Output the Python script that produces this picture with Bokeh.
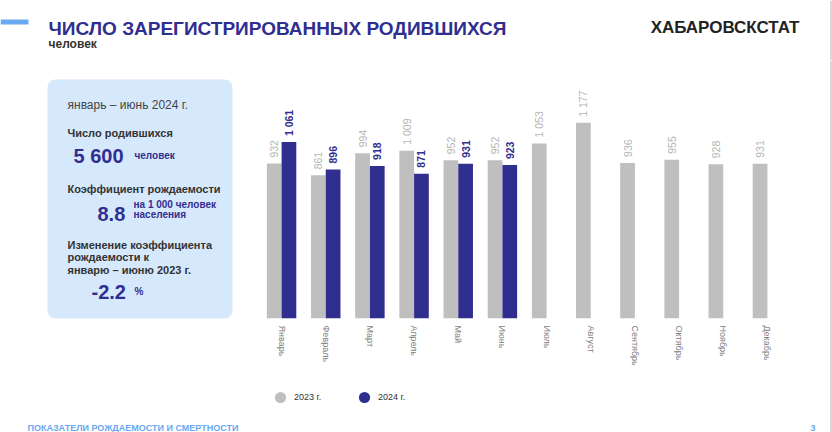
import math
from bokeh.plotting import figure
from bokeh.layouts import column, row
from bokeh.models import (ColumnDataSource, FactorRange, Range1d, Label,
                          BoxAnnotation, Legend, LegendItem, Span)
from bokeh.transform import dodge
from bokeh.core.properties import value
from bokeh.embed import file_html
from bokeh.resources import INLINE

# ---------------- data ----------------
months = ["Январь", "Февраль", "Март", "Апрель", "Май", "Июнь",
          "Июль", "Август", "Сентябрь", "Октябрь", "Ноябрь", "Декабрь"]
births_2023 = [932, 861, 994, 1009, 952, 952, 1053, 1177, 936, 955, 928, 931]
months_2024 = months[:6]
births_2024 = [1061, 896, 918, 871, 931, 923]
series_names = ["2023 г.", "2024 г."]

title = "ЧИСЛО ЗАРЕГИСТРИРОВАННЫХ РОДИВШИХСЯ"
subtitle = "человек"
brand = "ХАБАРОВСКСТАТ"
period = "январь – июнь 2024 г."
births_total_caption = "Число родившихся"
births_total = "5 600"
births_total_unit = "человек"
rate_caption = "Коэффициент рождаемости"
rate_value = "8.8"
rate_unit = ["на 1 000 человек", "населения"]
change_caption = ["Изменение коэффициента", "рождаемости к", "январю – июню 2023 г."]
change_value = "-2.2"
change_unit = "%"
footer = "ПОКАЗАТЕЛИ РОЖДАЕМОСТИ И СМЕРТНОСТИ"
page_no = "3"


def fmt(v):
    return f"{v:,}".replace(",", " ")


# ---------------- styles ----------------
GRAY = "#bfbfbf"
GRAY_TXT = "#b5b5b5"
BLUE = "#302e8f"
DARK = "#333333"
LIGHT_BLUE = "#6aa8f0"
EDGE = "#b0b0b0"
SANS = "Liberation Sans"


def panel(x0, x1, y0, y1):
    """Decorative figure whose data coordinates are page pixels."""
    f = figure(width=x1 - x0, height=y1 - y0, x_range=Range1d(x0, x1),
               y_range=Range1d(y1, y0), output_backend="svg",
               toolbar_location=None, min_border=0)
    f.xaxis.visible = False
    f.yaxis.visible = False
    f.grid.visible = False
    f.outline_line_color = None
    f.background_fill_color = "white"
    f.border_fill_color = "white"
    return f


def lab(f, text, x, y, size, bold=False, color=DARK, align="left"):
    f.add_layout(Label(x=x, y=y, text=text, text_font=SANS,
                       text_font_size=f"{size}px",
                       text_font_style="bold" if bold else "normal",
                       text_color=color, text_align=align,
                       text_baseline="alphabetic"))


def box(f, l, t, r, b, color, radius=0):
    f.add_layout(BoxAnnotation(left=l, right=r, top=t, bottom=b,
                               fill_color=color, fill_alpha=1,
                               line_color=None, border_radius=radius,
                               level="underlay"))


# ---------------- header ----------------
head = panel(0, 832, 0, 60)
box(head, 0, 19, 28, 24, "#6ba9f2")
lab(head, title, 48, 28, 19, True, BLUE)
lab(head, subtitle, 48, 43, 12, True, DARK)
lab(head, brand, 799, 27, 17, True, "#222222", align="right")
head.add_layout(Span(location=830.5, dimension="height", line_color=EDGE,
                     line_width=1))

# ---------------- info panel ----------------
left = panel(0, 259, 60, 432)
box(left, 47, 79, 232, 318, "#d6e8fb", radius=8)
lab(left, period, 67, 104, 12, False, "#444444")
lab(left, births_total_caption, 67, 132, 11, True)
lab(left, births_total, 73, 155, 20, True, BLUE)
lab(left, births_total_unit, 134, 155, 10, True, BLUE)
lab(left, rate_caption, 67, 188, 11, True)
lab(left, rate_value, 97, 213, 20, True, BLUE)
lab(left, rate_unit[0], 133, 204, 10, True, BLUE)
lab(left, rate_unit[1], 133, 214, 10, True, BLUE)
for i, line in enumerate(change_caption):
    lab(left, line, 67, 244 + i * 12.5, 11, True)
lab(left, change_value, 91, 291, 20, True, BLUE)
lab(left, change_unit, 134, 291, 10, True, BLUE)
lab(left, footer, 27, 427, 9, True, LIGHT_BLUE)

# ---------------- bar chart ----------------
p = figure(width=530, height=316, x_range=FactorRange(factors=months),
           y_range=Range1d(0, 1552), output_backend="svg",
           toolbar_location=None, min_border_left=0, min_border_right=0,
           min_border_top=0, min_border_bottom=58)
p.yaxis.visible = False
p.xgrid.visible = False
p.ygrid.visible = False
p.outline_line_color = None
p.background_fill_color = "white"
p.border_fill_color = "white"

src23 = ColumnDataSource(dict(month=months, value=births_2023,
                              label=[fmt(v) for v in births_2023]))
src24 = ColumnDataSource(dict(month=months_2024, value=births_2024,
                              label=[fmt(v) for v in births_2024]))

p.vbar(x=dodge("month", -0.1667, range=p.x_range), top="value", width=0.333,
       source=src23, fill_color=GRAY, line_color=None)
p.vbar(x=dodge("month", 0.1667, range=p.x_range), top="value", width=0.333,
       source=src24, fill_color=BLUE, line_color=None)

p.text(x=dodge("month", -0.1667, range=p.x_range), y="value", text="label",
       source=src23, angle=math.pi / 2, text_align="left",
       text_baseline="middle", y_offset=-6, text_font=value(SANS),
       text_font_size="10.5px", text_color=GRAY_TXT)
p.text(x=dodge("month", 0.1667, range=p.x_range), y="value", text="label",
       source=src24, angle=math.pi / 2, text_align="left",
       text_baseline="middle", y_offset=-6, text_font=value(SANS),
       text_font_size="10.5px", text_font_style="bold", text_color=BLUE)

ax = p.xaxis[0]
ax.major_label_orientation = "vertical"
ax.axis_line_color = None
ax.major_tick_line_color = None
ax.minor_tick_line_color = None
ax.major_tick_out = 0
ax.major_tick_in = 0
ax.major_label_standoff = 7
ax.major_label_text_font = SANS
ax.major_label_text_font_size = "9px"
ax.major_label_text_color = "#808080"

# ---------------- legend ----------------
leg_fig = panel(259, 789, 376, 432)
# legend swatch renderers: one point each, placed outside the visible range
r23 = leg_fig.scatter(x=[0], y=[0], marker="circle", fill_color=GRAY,
                      line_color=None)
r24 = leg_fig.scatter(x=[0], y=[0], marker="circle", fill_color=BLUE,
                      line_color=None)
for r, name, gx in [(r23, series_names[0], 266), (r24, series_names[1], 350)]:
    leg = Legend(items=[LegendItem(label=name, renderers=[r])],
                 location=(gx - 259, 432 - 411),
                 orientation="horizontal", padding=0, margin=0, spacing=0,
                 border_line_color=None, background_fill_alpha=0,
                 glyph_width=28, glyph_height=28, label_standoff=0,
                 label_text_font=SANS, label_text_font_size="9px",
                 label_text_color=DARK)
    leg_fig.add_layout(leg)

# ---------------- right strip ----------------
strip = panel(789, 832, 60, 432)
strip.add_layout(Span(location=830.5, dimension="height", line_color=EDGE,
                      line_width=1))
lab(strip, page_no, 810, 427, 9, True, LIGHT_BLUE)

layout = column(head,
                row(left, column(p, leg_fig, spacing=0), strip, spacing=0),
                spacing=0)

open("out.html", "w").write(file_html(layout, INLINE))
